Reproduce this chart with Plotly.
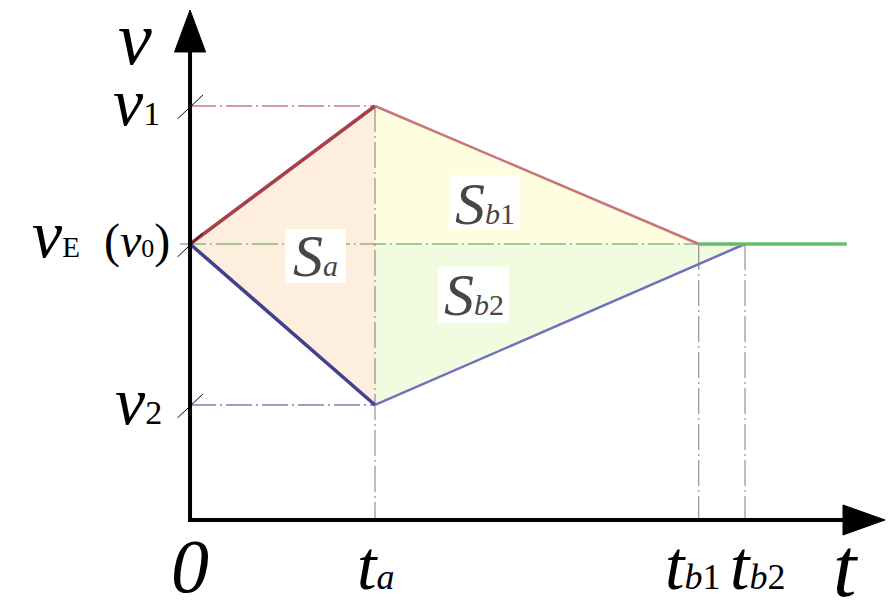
"""Velocity profile sketch: v-t diagram with areas Sa, Sb1, Sb2."""

import plotly.graph_objects as go

# time instants on the t axis
T_A = 2.0
T_B1 = 5.5
T_B2 = 6.0
T_END = 7.1

# speed levels on the v axis
V_E = 3.0
V_1 = 4.5
V_2 = 1.25

# profile segments
upper_t = [0, T_A, T_B1]
upper_v = [V_E, V_1, V_E]
lower_t = [0, T_A, T_B2]
lower_v = [V_E, V_2, V_E]
steady_t = [T_B1, T_END]
steady_v = [V_E, V_E]

# tick labels
tick_t = [0, T_A, T_B1, T_B2]
tick_text = [
    "<i>0</i>",
    "<i>t</i><span style='font-size:36px'><i>a</i></span>",
    "<i>t</i><span style='font-size:36px'><i>b</i>1</span>",
    "<i>t</i><span style='font-size:36px'><i>b</i>2</span>",
]
level_v = [V_1, V_E, V_2]
level_text = [
    "<i>v</i><span style='font-size:34px'>1</span>",
    "<i>v</i><span style='font-size:29px'>E</span>"
    "<span style='font-size:48px'>\u00a0\u00a0(<i>v</i></span>"
    "<span style='font-size:26px'>0</span><span style='font-size:48px'>)</span>",
    "<i>v</i><span style='font-size:34px'>2</span>",
]

# area labels
area_text = [
    "<i>S</i><span style='font-size:30px'><i>a</i></span>",
    "<i>S</i><span style='font-size:30px'><i>b</i>1</span>",
    "<i>S</i><span style='font-size:30px'><i>b</i>2</span>",
]
area_t = [1.357, 3.184, 3.07]
area_v = [2.87, 3.44, 2.45]
# white boxes behind the area labels: (t0, t1, v0, v1)
area_box = [(1.027, 1.686, 2.576, 3.163), (2.80, 3.568, 3.152, 3.75), (2.681, 3.449, 2.141, 2.75)]

SERIF = "Liberation Serif"
DASHDOT = "26px,4px,2px,4px"

fig = go.Figure()


def _poly(t, v, color):
    fig.add_trace(
        go.Scatter(
            x=t + [t[0]],
            y=v + [v[0]],
            mode="lines",
            fill="toself",
            fillcolor=color,
            line=dict(width=0),
            hoverinfo="skip",
        )
    )


def _seg(t, v, color, width, dash="solid"):
    fig.add_trace(
        go.Scatter(
            x=t,
            y=v,
            mode="lines",
            line=dict(color=color, width=width, dash=dash),
            hoverinfo="skip",
        )
    )


# filled regions
_poly([0, T_A, T_A], [V_E, V_1, V_2], "#fdeedd")
_poly([T_A, T_B1, T_A], [V_1, V_E, V_E], "#fefde0")
_poly([T_A, T_B2, T_A], [V_E, V_E, V_2], "#f1fbdf")

# dash-dot guide lines
_seg([0, T_A], [V_1, V_1], "#a83848", 1, DASHDOT)
_seg([0, T_A], [V_2, V_2], "#404088", 1, DASHDOT)
_seg([-0.11, T_B1], [V_E, V_E], "#4a9a4a", 1, DASHDOT)
_seg([T_A, T_A], [V_1, 0], "#7a7a7a", 1, DASHDOT)
_seg([T_B1, T_B1], [V_E, 0], "#7a7a7a", 1, DASHDOT)
_seg([T_B2, T_B2], [V_E, 0], "#7a7a7a", 1, DASHDOT)

# profile
_seg(upper_t[:2], upper_v[:2], "#a5404c", 3.5)
_seg(upper_t[1:], upper_v[1:], "#c87478", 2.5)
_seg(lower_t[:2], lower_v[:2], "#40408c", 3.5)
_seg(lower_t[1:], lower_v[1:], "#7270bc", 2.5)
_seg(steady_t, steady_v, "#68bb6c", 3.5)

# axes with arrow heads
shapes = [
    dict(type="path", path="M 0,5.09 L 0,0 L 7.06,0",
         line=dict(color="black", width=4)),
    dict(type="path", path="M -0.168,5.087 L 0,5.543 L 0.168,5.087 Z",
         fillcolor="black", line=dict(color="black", width=1)),
    dict(type="path", path="M 7.059,0.163 L 7.514,0 L 7.059,-0.163 Z",
         fillcolor="black", line=dict(color="black", width=1)),
]
for v in level_v:
    shapes.append(dict(type="line", x0=-0.135, y0=v - 0.14, x1=0.14, y1=v + 0.12,
                       line=dict(color="black", width=1)))
for t0, t1, v0, v1 in area_box:
    shapes.append(dict(type="rect", x0=t0, x1=t1, y0=v0, y1=v1,
                       fillcolor="white", line=dict(width=0)))

annotations = []
for t, txt in zip(tick_t, tick_text):
    shift = 12 if t == T_B2 else (-6 if t == T_B1 else 0)
    size = 76 if t == 0 else 70
    annotations.append(dict(x=t, y=0, text=txt, showarrow=False, xanchor="center",
                            yanchor="middle", xshift=shift, yshift=-46,
                            font=dict(family=SERIF, size=size, color="black")))
level_dx = [-28, -18, -26]
level_dy = [4, 10, 4]
for v, txt, dx, dy in zip(level_v, level_text, level_dx, level_dy):
    annotations.append(dict(x=0, y=v, text=txt, showarrow=False, xanchor="right",
                            yanchor="middle", xshift=dx, yshift=dy,
                            font=dict(family=SERIF, size=68, color="black")))
# axis names
annotations.append(dict(x=0, y=5.543, text="<i>v</i>", showarrow=False, xanchor="right",
                        yanchor="middle", xshift=-36, yshift=-28,
                        font=dict(family=SERIF, size=76, color="black")))
annotations.append(dict(x=T_END, y=0, text="<i>t</i>", showarrow=False, xanchor="center",
                        yanchor="middle", xshift=-1, yshift=-48,
                        font=dict(family=SERIF, size=84, color="black")))
for t, v, txt in zip(area_t, area_v, area_text):
    annotations.append(dict(x=t, y=v, text=txt, showarrow=False, xanchor="center",
                            yanchor="middle",
                            font=dict(family=SERIF, size=60, color="#474747")))

# the page body adds an 8px offset, so the ranges are shifted to compensate
fig.update_layout(
    width=894,
    height=614,
    margin=dict(l=0, r=0, t=0, b=0),
    paper_bgcolor="white",
    plot_bgcolor="white",
    showlegend=False,
    shapes=shapes,
    annotations=annotations,
    xaxis=dict(range=[-1.968, 7.697], visible=False, fixedrange=True),
    yaxis=dict(range=[-1.109, 5.565], visible=False, fixedrange=True),
)

fig.write_html("out.html")
